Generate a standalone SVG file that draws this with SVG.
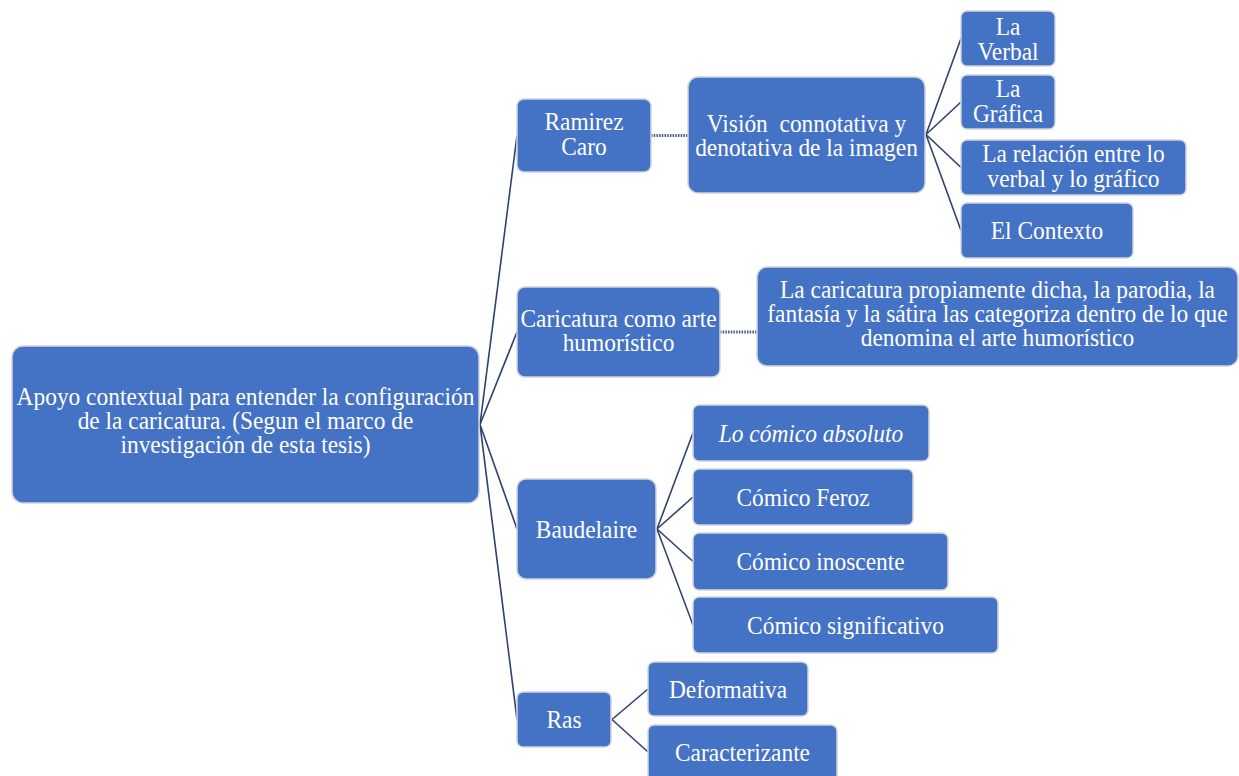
<svg xmlns="http://www.w3.org/2000/svg" width="1239" height="776" viewBox="0 0 1239 776">
<style>
.box{fill:#4472C4;stroke:#d0d4dc;stroke-width:1.5}
.t{font-family:"Liberation Serif","Times New Roman",serif;font-size:26px;fill:#ffffff;text-anchor:middle}
.it{font-style:italic}
.c{fill:none;stroke:#2f4170;stroke-width:1.6}
.d{fill:none;stroke:#4a5a86;stroke-width:3;stroke-dasharray:1.5 1.2}
</style>
<rect width="1239" height="776" fill="#ffffff"/>
<g id="connectors">
<path class="c" d="M480 424.5 L517 135.5"/>
<path class="c" d="M480 424.5 L517 332"/>
<path class="c" d="M480 424.5 L517 529"/>
<path class="c" d="M480 424.5 L517 719.5"/>
<path class="d" d="M651 135.5 L688 135.5"/>
<path class="d" d="M720 332 L757 332"/>
<path class="c" d="M926 134.5 L961 38.5"/>
<path class="c" d="M926 134.5 L961 102"/>
<path class="c" d="M926 134.5 L961 167.5"/>
<path class="c" d="M926 134.5 L961 230.5"/>
<path class="c" d="M657 529 L693 433"/>
<path class="c" d="M657 529 L693 497"/>
<path class="c" d="M657 529 L693 561.5"/>
<path class="c" d="M657 529 L693 625"/>
<path class="c" d="M612 719.5 L648 689"/>
<path class="c" d="M612 719.5 L648 752"/>
</g>
<g id="n-root"><rect class="box" x="12" y="346" width="467" height="157" rx="11"/>
<text class="t" transform="translate(245.5 405) scale(0.9 1)"><tspan x="0" y="0">Apoyo contextual para entender la configuración</tspan><tspan x="0" y="24">de la caricatura. (Segun el marco de</tspan><tspan x="0" y="48">investigación de esta tesis)</tspan></text></g>
<g id="n-ramirez"><rect class="box" x="517" y="99" width="134" height="73" rx="7"/>
<text class="t" transform="translate(584 130) scale(0.9 1)"><tspan x="0" y="0">Ramirez</tspan><tspan x="0" y="25">Caro</tspan></text></g>
<g id="n-vision"><rect class="box" x="688" y="77" width="237" height="116" rx="10"/>
<text class="t" xml:space="preserve" transform="translate(806.5 132) scale(0.9 1)"><tspan x="0" y="0">Visión  connotativa y</tspan><tspan x="0" y="24">denotativa de la imagen</tspan></text></g>
<g id="n-verbal"><rect class="box" x="961" y="11" width="94" height="55" rx="6"/>
<text class="t" transform="translate(1008 35) scale(0.9 1)"><tspan x="0" y="0">La</tspan><tspan x="0" y="25">Verbal</tspan></text></g>
<g id="n-grafica"><rect class="box" x="961" y="75" width="94" height="54" rx="6"/>
<text class="t" transform="translate(1008 97) scale(0.9 1)"><tspan x="0" y="0">La</tspan><tspan x="0" y="25">Gráfica</tspan></text></g>
<g id="n-relacion"><rect class="box" x="961" y="140" width="225" height="55" rx="6"/>
<text class="t" transform="translate(1073.5 162) scale(0.9 1)"><tspan x="0" y="0">La relación entre lo</tspan><tspan x="0" y="25">verbal y lo gráfico</tspan></text></g>
<g id="n-contexto"><rect class="box" x="961" y="203" width="172" height="55" rx="6"/>
<text class="t" transform="translate(1047 239) scale(0.9 1)"><tspan x="0" y="0">El Contexto</tspan></text></g>
<g id="n-caricatura"><rect class="box" x="517" y="287" width="203" height="90" rx="8"/>
<text class="t" transform="translate(618.5 327) scale(0.9 1)"><tspan x="0" y="0">Caricatura como arte</tspan><tspan x="0" y="24">humorístico</tspan></text></g>
<g id="n-categorias"><rect class="box" x="757" y="267" width="481" height="99" rx="10"/>
<text class="t" transform="translate(997.5 298) scale(0.9 1)"><tspan x="0" y="0">La caricatura propiamente dicha, la parodia, la</tspan><tspan x="0" y="24">fantasía y la sátira las categoriza dentro de lo que</tspan><tspan x="0" y="48">denomina el arte humorístico</tspan></text></g>
<g id="n-baudelaire"><rect class="box" x="517" y="479" width="139" height="100" rx="9"/>
<text class="t" transform="translate(586.5 538) scale(0.9 1)">Baudelaire</text></g>
<g id="n-absoluto"><rect class="box" x="693" y="405" width="236" height="56" rx="6"/>
<text class="t it" transform="translate(811 442) scale(0.9 1)">Lo cómico absoluto</text></g>
<g id="n-feroz"><rect class="box" x="693" y="469" width="220" height="56" rx="6"/>
<text class="t" transform="translate(803 506) scale(0.9 1)">Cómico Feroz</text></g>
<g id="n-inoscente"><rect class="box" x="693" y="533" width="255" height="57" rx="6"/>
<text class="t" transform="translate(820.5 570) scale(0.9 1)">Cómico inoscente</text></g>
<g id="n-significativo"><rect class="box" x="693" y="597" width="305" height="56" rx="6"/>
<text class="t" transform="translate(845.5 634) scale(0.9 1)">Cómico significativo</text></g>
<g id="n-ras"><rect class="box" x="517" y="692" width="94" height="55" rx="6"/>
<text class="t" transform="translate(564 728) scale(0.9 1)">Ras</text></g>
<g id="n-deformativa"><rect class="box" x="648" y="662" width="160" height="54" rx="6"/>
<text class="t" transform="translate(728 698) scale(0.9 1)">Deformativa</text></g>
<g id="n-caracterizante"><rect class="box" x="648" y="725" width="189" height="56" rx="6"/>
<text class="t" transform="translate(742.5 761) scale(0.9 1)">Caracterizante</text></g>
</svg>
